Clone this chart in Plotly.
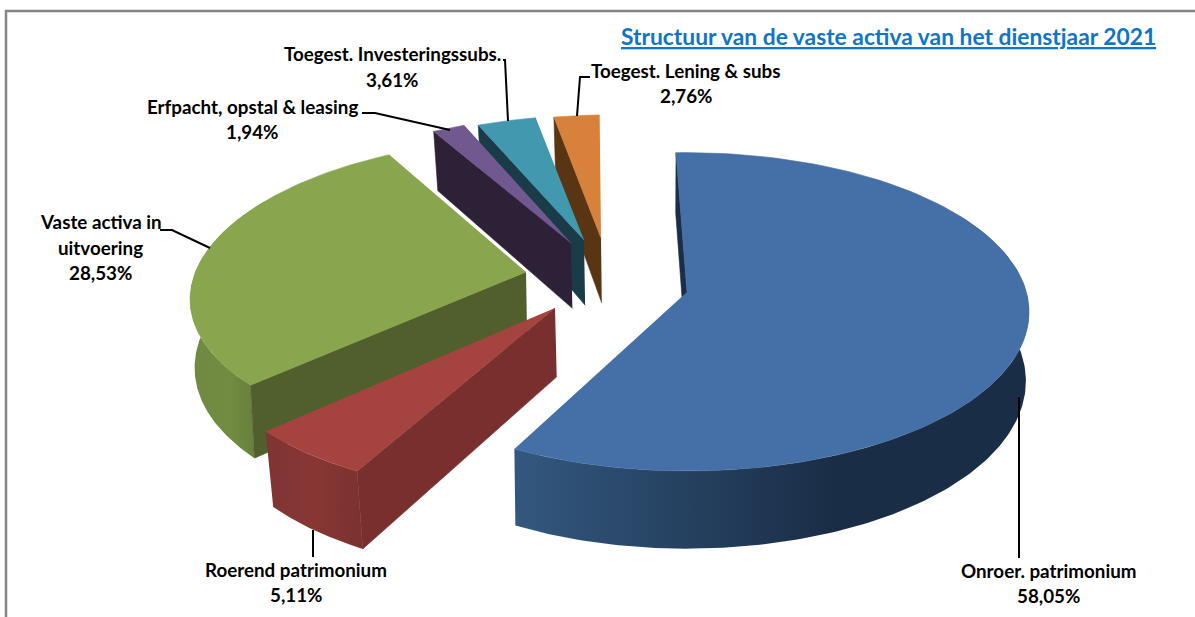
import numpy as np
import plotly.graph_objects as go

categories = ["Onroer. patrimonium", "Roerend patrimonium", "Vaste activa in uitvoering",
              "Erfpacht, opstal & leasing", "Toegest. Investeringssubs.", "Toegest. Lening & subs"]
shares = [58.05, 5.11, 28.53, 1.94, 3.61, 2.76]

title_text = "Structuur van de vaste activa van het dienstjaar 2021"

# styling / layout, kept apart from the data
FONT = "Lato"
top_col = ["#4570a7", "#a54341", "#89a54e", "#71588f", "#4198af", "#d8813b"]
edge_col = ["#1a2e48", "#792f2d", "#505f2c", "#2c2137", "#193c48", "#5a3513"]
side_grad = [
    [[0, "#33587f"], [0.62, "#1a2d46"], [1, "#1a2d46"]],
    [[0, "#7f3533"], [0.5, "#883634"], [1, "#7a3230"]],
    [[0, "#6f8a41"], [0.5, "#728d42"], [1, "#60783a"]],
    [[0, "#2c2137"], [1, "#2c2137"]],
    [[0, "#193c48"], [1, "#193c48"]],
    [[0, "#5a3513"], [1, "#5a3513"]],
]
apex_px = [(687, 292), (555, 308), (526, 272), (571, 243), (584, 240), (601, 238)]
radius = [0.995, 1.01, 0.985, 0.98, 0.96, 0.95]
start_nudge = [0, 0.5, 1.0, 1.5, 1.0, 0.5]
end_nudge = [0, 1.0, 1.5, 1.0, 0, 0]
taper = [0.008, 0.02, 0.01, 0.02, 0.02, 0.02]
ROTATION = -2.0
X0, Y0, A, B, K, H = 683.0, 292.0, 341.0, 157.5, 0.125, 68.0
TAPER_C = 640.0


def project(x, y, z=0.0, tp=0.02):
    s = 1.0 / (1.0 - K * y)
    px = X0 + A * x * s
    px = TAPER_C + (px - TAPER_C) * (1 - tp * z / H)
    return px, Y0 + (B * y + z) * s


def unproject(px, py):
    d = py - Y0
    y = d / (B + K * d)
    s = 1.0 / (1.0 - K * y)
    return (px - X0) / (A * s), y


def poly(xs, ys, color=None, gradient=None):
    kw = dict(x=list(xs), y=list(ys), mode="lines", fill="toself",
              hoverinfo="skip", showlegend=False)
    if gradient is not None:
        lo, hi = float(np.min(xs)), float(np.max(xs))
        kw["fillgradient"] = dict(type="horizontal", colorscale=gradient, start=lo, stop=hi)
        kw["line"] = dict(width=0)
    else:
        kw["fillcolor"] = color
        kw["line"] = dict(width=0.6, color=color)
    return go.Scatter(**kw)


edges = ROTATION + np.concatenate([[0], np.cumsum(shares)]) * 3.6
fig = go.Figure()
draw_order = [5, 4, 3, 2, 1, 0]
for i in draw_order:
    a0, a1 = edges[i] + start_nudge[i], edges[i + 1] + end_nudge[i]
    r = radius[i]
    tp = taper[i]
    cx, cy = unproject(*apex_px[i])
    th = np.radians(np.linspace(a0, a1, 120))
    rx, ry = cx + r * np.sin(th), cy - r * np.cos(th)
    # start edge face
    sx0, sy0 = rx[0], ry[0]
    corners = [project(cx, cy), project(sx0, sy0), project(sx0, sy0, H, tp), project(cx, cy, H, tp)]
    fx = [c[0] for c in corners]
    fy = [c[1] for c in corners]
    # outer curved band (front-facing part only)
    lo, hi = max(a0, 60), min(a1, 300)
    if hi > lo and shares[i] > 4:
        t2 = np.radians(np.linspace(lo, hi, 160))
        bx, by = cx + r * np.sin(t2), cy - r * np.cos(t2)
        p_top = project(bx, by)
        p_bot = project(bx, by, H, tp)
        xs = np.concatenate([p_top[0], p_bot[0][::-1]])
        ys = np.concatenate([p_top[1], p_bot[1][::-1]])
        fig.add_trace(poly(xs, ys, gradient=side_grad[i]))
    fig.add_trace(poly(fx, fy, color=edge_col[i]))
    # top face
    tx, ty = project(rx, ry)
    ax_, ay_ = project(cx, cy)
    fig.add_trace(poly(np.concatenate([[ax_], tx]), np.concatenate([[ay_], ty]), color=top_col[i]))

shapes = []


def seg(pts, color="#000000", width=2):
    path = "M " + " L ".join(f"{x},{y}" for x, y in pts)
    shapes.append(dict(type="path", path=path, xref="x", yref="y", layer="above",
                       line=dict(color=color, width=width)))


# frame
seg([(6, 617), (6, 11), (1195, 11)], color="#858585", width=2.5)
# leader lines
seg([(1019, 397), (1019, 558)])
seg([(313, 530), (313, 557)])
seg([(160, 230), (172, 230), (210, 248)])
seg([(362, 113), (375, 113), (450, 130)])
seg([(503, 60), (505, 60), (508, 121)])
seg([(590, 77), (580, 77), (577, 116)])

pct = [f"{v:.2f}".replace(".", ",") + "%" for v in shares]
annotations = []


def text(s, x, y, size=18.8, color="#000000", weight=True):
    annotations.append(dict(text=f"<b>{s}</b>" if weight else s, x=x, y=y, xref="x", yref="y",
                            showarrow=False, xanchor="center", yanchor="middle",
                            font=dict(family=FONT, size=size, color=color)))


text(f"<u>{title_text}</u>", 888.5, 36, size=22.8, color="#0f75c4")
text(categories[0], 1048.5, 570)
text(pct[0], 1048.5, 595)
text(categories[1], 295.5, 569)
text(pct[1], 295.5, 594)
text("Vaste activa in", 100.5, 221)
text("uitvoering", 100.5, 247)
text(pct[2], 100.5, 272)
text(categories[3], 252, 106)
text(pct[3], 252, 131)
text(categories[4], 392, 53)
text(pct[4], 392, 79)
text(categories[5], 685.5, 70)
text(pct[5], 685.5, 95)

axis = dict(visible=False, fixedrange=True)
fig.update_layout(
    width=1195, height=617, margin=dict(l=0, r=0, t=0, b=0),
    paper_bgcolor="white", plot_bgcolor="white", showlegend=False,
    xaxis=dict(range=[0, 1195], **axis),
    yaxis=dict(range=[617, 0], **axis),
    shapes=shapes, annotations=annotations,
)
fig.write_html("out.html", config=dict(displayModeBar=False),
               post_script="document.body.style.margin='0';document.body.style.overflow='hidden';")
